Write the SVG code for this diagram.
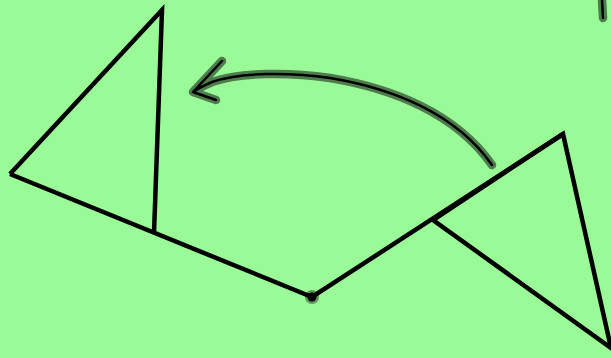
<svg xmlns="http://www.w3.org/2000/svg" width="611" height="358" viewBox="0 0 611 358">
<style>
.ln{fill:none;stroke:#000;stroke-width:4.5;stroke-linejoin:miter;stroke-linecap:butt}
.halo{fill:none;stroke:#000;stroke-opacity:0.5;stroke-width:8.5;stroke-linecap:round;stroke-linejoin:round}
.ink{fill:none;stroke:#000;stroke-width:2.5;stroke-linecap:round;stroke-linejoin:round}
</style>
<rect width="611" height="358" fill="#9afa98"/>
<g id="left-triangle">
<path class="ln" d="M154,233 L162,10 L10,174"/>
</g>
<g id="right-triangle">
<path class="ln" d="M433,220 L563,134 L611,348 Z"/>
</g>
<g id="beam">
<path class="ln" d="M10,174 L312,297 L563,134"/>
</g>
<g id="pivot">
<circle cx="312" cy="297" r="7" fill="#000" fill-opacity="0.4"/>
<circle cx="312" cy="297" r="4.5" fill="#000"/>
</g>
<g id="arrow">
<path class="halo" d="M492,165 C455,112 390,88 330,78 C290,72 240,72 212,82 C203,86 197,89 193,92 M222,61 L193,92 L216,100"/>
<path class="ink" d="M492,165 C455,112 390,88 330,78 C290,72 240,72 212,82 C203,86 197,89 193,92 M222,61 L193,92 L216,100"/>
</g>
<g id="corner-mark">
<path class="halo" d="M602,0 L603,18"/>
<path class="ink" d="M602,0 L603,18"/>
</g>
</svg>
